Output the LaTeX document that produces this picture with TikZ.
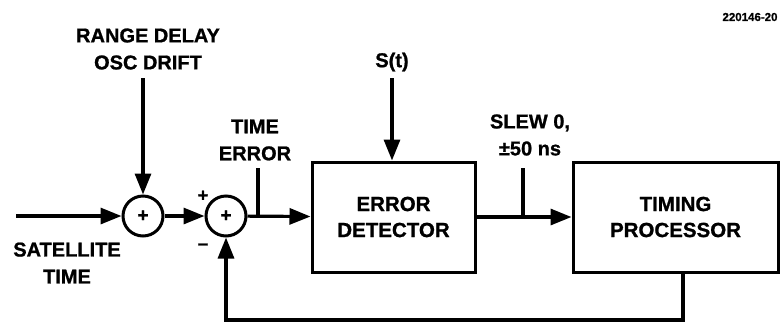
\documentclass[tikz,border=0pt]{standalone}
\usepackage{fontspec}
\setmainfont{Liberation Sans}[BoldFeatures={FakeBold=1}]
\usetikzlibrary{arrows.meta}
\tikzset{
  sig/.style={line width=3.2pt},
  arr/.style={sig, -{Triangle[length=21pt,width=16pt]}},
  summer/.style={draw, line width=3pt, circle, minimum size=40pt, inner sep=0pt,
    font=\fontsize{19}{19}\selectfont\bfseries},
  block/.style={draw, line width=3pt, rectangle, minimum height=110pt, align=center,
    font=\fontsize{20.5}{26}\selectfont\bfseries},
  lbl/.style={align=center, inner sep=0pt, font=\fontsize{20}{27}\selectfont\bfseries},
  sgn/.style={inner sep=0pt, font=\fontsize{18}{18}\selectfont\bfseries}
}
\begin{document}
\begin{tikzpicture}[x=1pt, y=-1pt]
\useasboundingbox (0,0) rectangle (783,322);

% summing junctions and blocks
\node[summer] (s1) at (143,216) {+};
\node[summer] (s2) at (226,216) {+};
\node[block, minimum width=163pt] (ed) at (393.5,217) {ERROR\\DETECTOR};
\node[block, minimum width=205pt] (tp) at (675.5,217) {TIMING\\PROCESSOR};

% labels
\node[lbl] (rd) at (148,49) {RANGE DELAY\\OSC DRIFT};
\node[lbl] (sat) at (67,263) {SATELLITE\\TIME};
\node[lbl] (te) at (255,140) {TIME\\ERROR};
\node[lbl] (st) at (392,62) {S(t)};
\node[lbl] (slew) at (530,135) {SLEW 0,\\±50 ns};
\node[sgn] (plus) at (203,196) {+};
\node[sgn] (minus) at (203,247) {−};
\node[inner sep=0pt, font=\fontsize{11.5}{12}\selectfont\bfseries] (fig) at (750,17) {220146-20};

% signal flow
\coordinate (in) at (16,216);
\coordinate (rdtop) at (143,78);
\coordinate (sttop) at (392,78);
\coordinate (tetick) at (258,168);
\coordinate (slewtick) at (523,168);
\coordinate (fb) at (683,320);

\draw[arr] (in) -- (s1);
\draw[arr] (rdtop) -- (s1);
\draw[arr] (s1) -- (s2);
\draw[arr] (s2) -- (ed);
\draw[arr] (sttop) -- (ed.north -| sttop);
\draw[arr] (ed) -- (tp);
\draw[sig] (tetick) -- (tetick |- s2);
\draw[sig] (slewtick) -- (slewtick |- ed);
\draw[arr] (tp.south -| fb) -- (fb) -- (fb -| s2) -- (s2);
\end{tikzpicture}
\end{document}
